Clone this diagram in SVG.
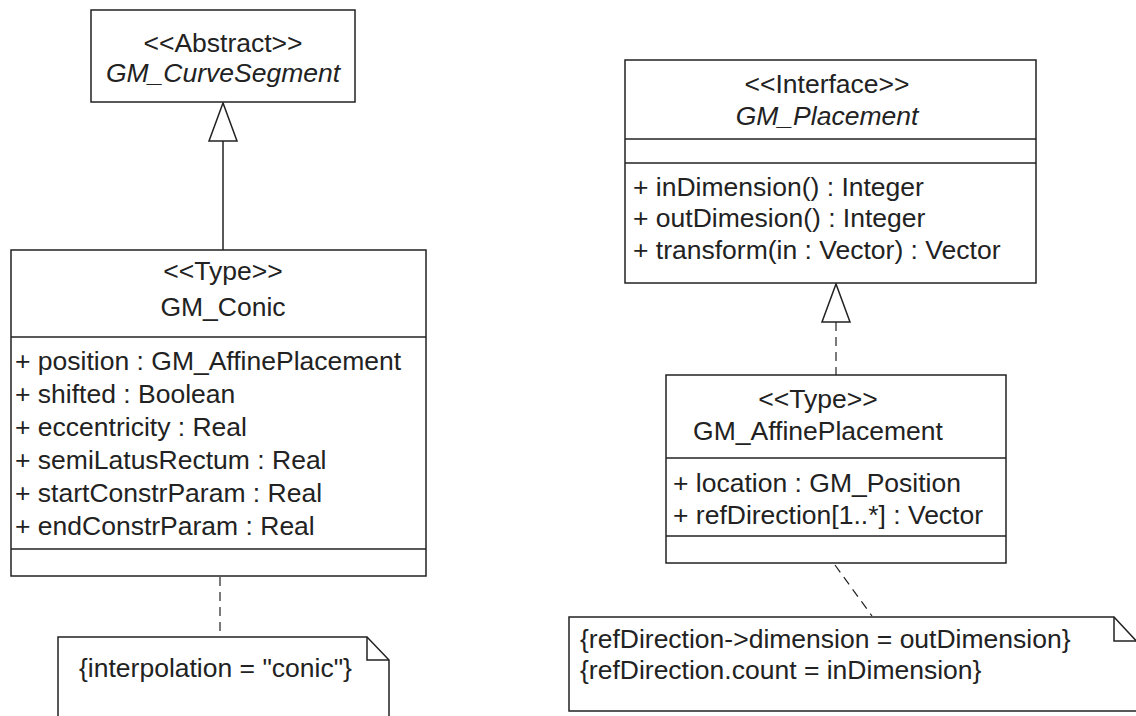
<svg xmlns="http://www.w3.org/2000/svg" width="1136" height="716" viewBox="0 0 1136 716">
<style>
.box{fill:#fff;stroke:#222;stroke-width:1.5}
.ln{fill:none;stroke:#222;stroke-width:1.5}
.dash{fill:none;stroke:#222;stroke-width:1.2;stroke-dasharray:9 6}
text{font-family:"Liberation Sans",Arial,sans-serif;font-size:26.5px;fill:#222}
.c{text-anchor:middle}
.i{font-style:italic}
</style>
<rect width="1136" height="716" fill="#fff"/>
<g id="connectors">
<line class="ln" x1="223" y1="141" x2="223" y2="250"/>
<polygon class="box" points="223,103 209,141 237,141"/>
<line class="dash" x1="836" y1="322" x2="836" y2="375"/>
<polygon class="box" points="836,284 822,322 850,322"/>
<line class="dash" x1="220" y1="577" x2="220" y2="637"/>
<line class="dash" x1="835" y1="565" x2="872" y2="616"/>
</g>
<g id="GM_CurveSegment">
<rect class="box" x="91" y="10" width="264" height="92"/>
<text class="c" x="223" y="52">&lt;&lt;Abstract&gt;&gt;</text>
<text class="c i" x="223" y="82">GM_CurveSegment</text>
</g>
<g id="GM_Conic">
<rect class="box" x="11" y="250" width="415" height="326"/>
<line class="ln" x1="11" y1="337" x2="426" y2="337"/>
<line class="ln" x1="11" y1="549" x2="426" y2="549"/>
<text class="c" x="223" y="280">&lt;&lt;Type&gt;&gt;</text>
<text class="c" x="223" y="316">GM_Conic</text>
<text x="15" y="370">+ position : GM_AffinePlacement</text>
<text x="15" y="403">+ shifted : Boolean</text>
<text x="15" y="436">+ eccentricity : Real</text>
<text x="15" y="469">+ semiLatusRectum : Real</text>
<text x="15" y="502">+ startConstrParam : Real</text>
<text x="15" y="535">+ endConstrParam : Real</text>
</g>
<g id="note_conic">
<path class="box" d="M58,716 L58,637 L367,637 L389,660 L389,716"/>
<path class="ln" d="M367,637 L367,660 L389,660"/>
<text x="79" y="677">{interpolation = "conic"}</text>
</g>
<g id="GM_Placement">
<rect class="box" x="625" y="60" width="411" height="223"/>
<line class="ln" x1="625" y1="139" x2="1036" y2="139"/>
<line class="ln" x1="625" y1="163" x2="1036" y2="163"/>
<text class="c" x="827" y="93">&lt;&lt;Interface&gt;&gt;</text>
<text class="c i" x="827" y="125">GM_Placement</text>
<text x="633" y="196">+ inDimension() : Integer</text>
<text x="633" y="227">+ outDimesion() : Integer</text>
<text x="633" y="259">+ transform(in : Vector) : Vector</text>
</g>
<g id="GM_AffinePlacement">
<rect class="box" x="666" y="375" width="340" height="188"/>
<line class="ln" x1="666" y1="458" x2="1006" y2="458"/>
<line class="ln" x1="666" y1="536" x2="1006" y2="536"/>
<text class="c" x="818" y="408">&lt;&lt;Type&gt;&gt;</text>
<text class="c" x="818" y="440">GM_AffinePlacement</text>
<text x="673" y="492">+ location : GM_Position</text>
<text x="673" y="524">+ refDirection[1..*] : Vector</text>
</g>
<g id="note_ref">
<path class="box" d="M1140,711 L569,711 L569,617 L1114,617 L1140,645"/>
<path class="ln" d="M1114,617 L1114,641 L1140,641"/>
<text x="580" y="648">{refDirection-&gt;dimension = outDimension}</text>
<text x="580" y="679">{refDirection.count = inDimension}</text>
</g>
</svg>
